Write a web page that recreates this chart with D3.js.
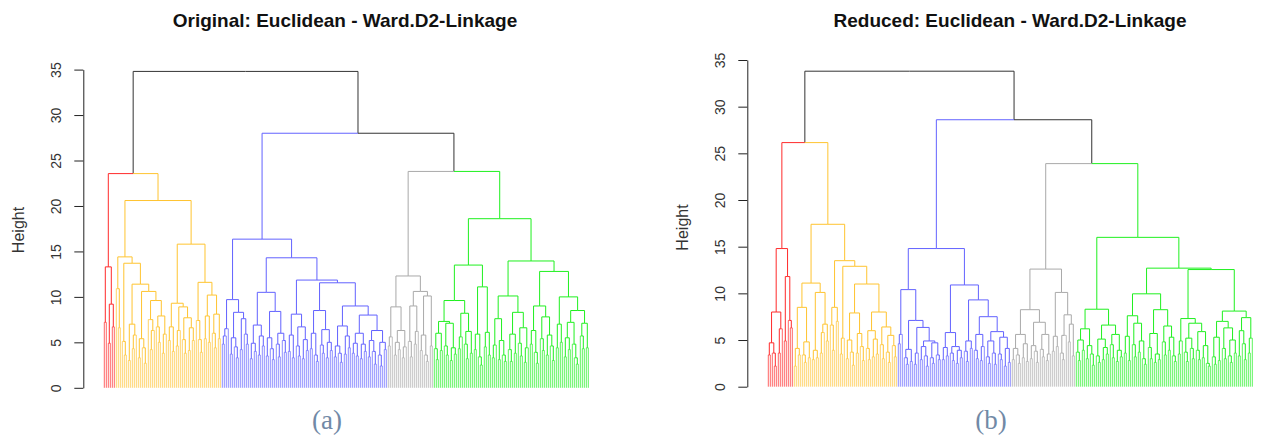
<!DOCTYPE html>
<html>
<head>
<meta charset="utf-8">
<script src="https://cdn.jsdelivr.net/npm/d3@7"></script>
<style>
  html, body { margin: 0; padding: 0; background: #fff; }
  svg { display: block; font-family: "Liberation Sans", Arial, Helvetica, sans-serif; }
</style>
</head>
<body>
<svg id="chart" width="1261" height="439"></svg>
<script>
// ---------------------------------------------------------------
// Ward.D2 dendrograms (Euclidean distance), two feature sets.
// A merge is written as [height, left, right]; a single sample is 0.
// ---------------------------------------------------------------

const titles = ["Original: Euclidean - Ward.D2-Linkage", "Reduced: Euclidean - Ward.D2-Linkage"];
const captions = ["(a)", "(b)"];
const yTicks = [0, 5, 10, 15, 20, 25, 30, 35];
const clusterNames = ["red", "orange", "blue", "gray", "green"];

// heights of the merges above the five clusters:
// [root, red+orange, blue+(gray,green), gray+green]
const topMergesA = [34.8, 23.56, 28.0, 23.8];
const topMergesB = [33.8, 26.15, 28.6, 23.9];

// ----- original feature set -----
const redA = [13.3, [7.2, 0, 0], [9.2, [4.9, 0, 0], [6.7, 0, 0]]];

const orangeA = [20.6,
  [14.4,
    [10.9, 0, [6.6, 0, 0]],
    [13.7,
      [5.1, 0, [3.6, 0, 0]],
      [11.4,
        [7.0, [3.0, 0, 0], [5.8, [4.3, 0, 0], 0]],
        [10.6,
          [5.4, [3.3, 0, 0], [4.4, 0, [2.7, 0, 0]]],
          [9.6,
            [7.5, 0, [6.3, [4.2, 0, 0], 0]],
            [7.9, [6.7, 0, [5.0, 0, 0]], [5.9, [3.8, 0, 0], 0]]]]]]],
  [15.8,
    [9.3,
      [6.7, [5.2, 0, 0], [4.0, 0, 0]],
      [8.9, [6.3, [4.6, 0, 0], 0], [7.7, [5.3, 0, [3.8, 0, 0]], [6.6, [4.1, 0, 0], [5.2, 0, 0]]]]],
    [11.6,
      [7.4, 0, [5.3, 0, [3.9, 0, 0]]],
      [10.2, [7.9, [5.4, 0, 0], [5.0, 0, 0]], [8.1, [6.0, 0, [4.4, 0, 0]], [5.4, 0, 0]]]]]];

const blueA = [16.35,
  [9.7,
    [6.5, [5.7, [4.8, 0, 0], 0], 0],
    [8.3, [5.5, [3.7, 0, 0], [4.5, 0, [3.3, 0, 0]]], [7.6, [4.2, 0, 0], [5.9, 0, [4.8, 0, 0]]]]],
  [14.3,
    [10.5,
      [6.9, [4.9, [3.2, 0, 0], [4.0, 0, 0]], [5.7, [3.6, 0, 0], [4.6, 0, 0]]],
      [8.4, [5.5, [3.5, 0, 0], [4.3, 0, [3.1, 0, 0]]], [6.0, [4.8, 0, [3.4, 0, 0]], [5.2, 0, [3.9, 0, 0]]]]],
    [11.85,
      [8.1, [5.8, [4.0, 0, 0], [3.3, 0, 0]], [6.7, [4.6, 0, [3.5, 0, 0]], [5.3, [3.2, 0, 0], [4.1, 0, 0]]]],
      [11.55,
        [8.5, [6.0, [4.3, 0, 0], [3.6, 0, [2.9, 0, 0]]], [6.4, [4.7, 0, [3.8, 0, 0]], [5.0, [3.3, 0, 0], [4.1, 0, 0]]]],
        [9.0,
          [6.8, [4.6, [3.4, 0, 0], [3.8, 0, [2.8, 0, 0]]], [5.7, [3.7, 0, 0], [4.4, 0, 0]]],
          [8.0,
            [6.0, [4.9, [3.8, 0, 0], [3.5, 0, 0]], [4.8, [3.2, 0, 0], [4.0, 0, 0]]],
            [6.3, [5.2, [3.4, 0, 0], [4.0, 0, [2.6, 0, 0]]], [5.0, [3.6, 0, [2.4, 0, 0]], [4.2, 0, 0]]]]]]]]];

const grayA = [12.3,
  [8.9, [5.6, [4.6, 0, 0], 0], [6.3, [5.0, [3.6, 0, 0], [4.2, 0, 0]], [4.5, [3.3, 0, 0], 0]]],
  [10.6,
    [9.0, [5.1, 0, [3.4, 0, 0]], [6.2, [4.8, 0, 0], 0]],
    [10.1, [5.8, [4.1, 0, 0], [3.6, 0, [2.9, 0, 0]]], [4.6, 0, 0]]]];

const greenA = [18.6,
  [13.5,
    [9.6,
      [7.3, [6.0, [4.3, 0, [3.1, 0, 0]], [4.1, 0, 0]], [7.1, [4.6, 0, [3.6, 0, 0]], [4.4, [3.0, 0, 0], [3.7, 0, 0]]]],
      [8.2, [5.6, [4.3, 0, 0], 0], [6.2, [4.8, 0, [3.2, 0, 0]], [3.8, 0, 0]]]],
    [11.1, [5.9, [4.2, 0, 0], [3.4, 0, [2.5, 0, 0]]], [6.1, [4.5, 0, 0], [3.6, 0, 0]]]],
  [13.95,
    [10.1,
      [7.6, [4.7, [3.3, 0, 0], 0], [5.2, [3.1, 0, 0], [3.6, 0, [2.9, 0, 0]]]],
      [8.3, [5.9, [4.2, 0, [2.9, 0, 0]], [3.8, 0, 0]], [6.6, [4.9, 0, [3.5, 0, 0]], [4.4, [2.8, 0, 0], 0]]]],
    [12.8,
      [9.0, [6.3, [4.8, 0, 0], [3.9, 0, [2.7, 0, 0]]], [7.8, [5.4, 0, [4.1, 0, 0]], [5.8, [3.6, 0, 0], [4.6, 0, [3.0, 0, 0]]]]],
      [10.0,
        [7.0, [4.4, 0, 0], [5.0, 0, 0]],
        [8.5, [7.2, [5.5, [3.4, 0, 0], [4.2, 0, 0]], [4.8, 0, [3.3, 0, [2.6, 0, 0]]]], [7.1, [5.7, 0, [4.3, 0, 0]], [4.4, 0, 0]]]]]]];

// ----- reduced feature set -----
const redB = [14.8,
  [8.0, [4.7, [3.4, 0, 0], [3.6, 0, [2.2, 0, 0]]], [6.2, [3.6, 0, 0], 0]],
  [11.8, [4.9, 0, 0], [7.1, 0, [6.3, 0, 0]]]];

const orangeB = [17.4,
  [11.1,
    [8.5, [4.1, [2.2, 0, 0], [3.4, 0, 0]], [4.8, [3.4, 0, [2.6, 0, 0]], [3.1, 0, 0]]],
    [10.1, [3.9, [2.9, 0, 0], [3.1, 0, 0]], [6.7, [5.8, [3.6, 0, 0], 0], [4.9, 0, 0]]]],
  [13.5,
    [8.5, [6.6, 0, [3.9, 0, 0]], [7.0, 0, 0]],
    [12.9,
      [5.2, [3.5, 0, 0], 0],
      [11.0,
        [7.9, [5.0, [3.0, 0, 0], [3.7, 0, [2.3, 0, 0]]], [5.7, [3.6, 0, 0], [4.3, 0, [2.8, 0, 0]]]],
        [8.0, [6.0, [4.1, 0, [2.9, 0, 0]], [5.1, [3.2, 0, 0], [3.5, 0, 0]]],
              [6.4, [4.5, 0, [3.0, 0, 0]], [5.5, [3.7, 0, [2.6, 0, 0]], [4.4, 0, [3.2, 0, 0]]]]]]]]];

const blueB = [14.8,
  [10.4,
    [5.6, [4.6, 0, 0], 0],
    [7.1,
      [4.0, [3.1, 0, [2.4, 0, 0]], [2.7, 0, 0]],
      [6.35, [3.6, [2.4, 0, 0], 0],
             [4.9, [4.3, [2.9, 0, 0], [3.3, 0, [2.2, 0, 0]]], [4.7, [3.1, 0, [2.5, 0, 0]], [3.4, 0, [2.9, 0, 0]]]]]]],
  [10.9,
    [5.8, [4.2, [2.9, 0, 0], [3.3, 0, 0]], [4.3, [3.6, 0, [2.8, 0, 0]], [3.9, [2.5, 0, 0], [3.1, 0, 0]]]],
    [9.3,
      [4.9, [3.8, 0, [2.7, 0, 0]], [4.1, 0, 0]],
      [7.5,
        [5.6, [3.9, 0, [3.0, 0, 0]], [4.3, [2.8, 0, 0], 0]],
        [5.9, [4.9, [3.2, 0, [2.5, 0, 0]], [3.6, 0, [2.4, 0, 0]]], [5.3, [3.5, 0, [2.9, 0, 0]], [4.1, [2.2, 0, 0], [2.6, 0, 0]]]]]]]];

const grayB = [12.6,
  [8.25,
    [5.6, [4.1, [2.9, 0, 0], [3.4, 0, [2.5, 0, 0]]], [4.6, [3.1, 0, 0], [2.7, 0, 0]]],
    [6.9, [4.4, [3.0, 0, 0], [3.8, 0, [2.6, 0, 0]]], [5.6, [4.0, 0, [3.2, 0, 0]], [3.5, [2.8, 0, 0], 0]]]],
  [10.1,
    [5.4, [3.8, 0, 0], [4.3, 0, 0]],
    [7.7, [5.5, [3.6, 0, [2.9, 0, 0]], 0], [6.7, [4.8, 0, 0], [3.3, 0, 0]]]]];

const greenB = [16.0,
  [8.3,
    [6.2, [5.0, [3.7, 0, [2.8, 0, 0]], [3.9, 0, 0]], [4.4, [3.0, 0, 0], [3.5, 0, [2.3, 0, 0]]]],
    [6.6, [5.1, [3.3, 0, [2.6, 0, 0]], [4.2, [2.9, 0, 0], [3.5, 0, 0]]], [5.6, [4.5, 0, [3.1, 0, 0]], [3.9, [2.7, 0, 0], [3.2, 0, 0]]]]],
  [12.7,
    [9.95,
      [7.6, [5.4, [3.6, 0, 0], [2.8, 0, 0]], [6.8, [4.5, 0, [3.2, 0, 0]], [4.9, [3.7, 0, 0], [3.0, 0, [2.4, 0, 0]]]]],
      [8.25, [5.7, [4.2, 0, [3.0, 0, 0]], [3.5, [2.6, 0, 0], [2.9, 0, 0]]], [6.5, [4.8, 0, [3.4, 0, 0]], [5.3, [3.9, 0, 0], [3.3, 0, [2.7, 0, 0]]]]]],
    [12.55,
      [7.3, [4.9, [3.5, 0, 0], 0],
            [6.8, [5.2, [3.7, 0, [2.7, 0, 0]], [4.1, 0, [3.0, 0, 0]]], [5.9, [3.9, 0, [2.9, 0, 0]], [4.4, [3.1, 0, 0], [2.5, 0, [2.2, 0, 0]]]]]],
      [8.1,
        [7.0, [5.3, [3.2, 0, [2.4, 0, 0]], [2.8, 0, 0]], [6.3, [4.1, 0, [3.0, 0, 0]], [5.0, [3.3, 0, [2.6, 0, 0]], [3.6, 0, 0]]]],
        [7.4, [6.0, [3.3, 0, 0], [4.6, 0, [2.9, 0, 0]]], [5.2, [3.6, 0, 0], 0]]]]]];

// ---------------------------------------------------------------
// styling and layout
// ---------------------------------------------------------------
const clusterColors = { red: "#ff2a2a", orange: "#ffc430", blue: "#6262ff", gray: "#a9a9a9", green: "#1ff01f" };
const mergeColor = "#333333";
const inkColor = "#222222";
const leafOpacity = 0.72;   // drop lines of single samples are drawn a little lighter

const panels = [
  { title: titles[0], caption: captions[0], top: topMergesA,
    clusters: [redA, orangeA, blueA, grayA, greenA],
    axisX: 83.3, leafX0: 104.3, leafX1: 588.3, y0: 387.8, yMax: 69.6,
    titleX: 345, captionX: 327, heightLabelY: 230 },
  { title: titles[1], caption: captions[1], top: topMergesB,
    clusters: [redB, orangeB, blueB, grayB, greenB],
    axisX: 747.3, leafX0: 768.3, leafX1: 1252.3, y0: 386.7, yMax: 60,
    titleX: 1010, captionX: 991, heightLabelY: 227.5 }
];

// nested merge arrays -> plain node objects tagged with their cluster
function build(a, cluster) {
  if (a === 0) return { h: 0, cluster };
  return { h: a[0], cluster, children: [build(a[1], cluster), build(a[2], cluster)] };
}

function assemble(top, clusters) {
  const c = clusters.map((a, i) => build(a, clusterNames[i]));
  return { h: top[0], cluster: null, children: [
    { h: top[1], cluster: null, children: [c[0], c[1]] },
    { h: top[2], cluster: null, children: [c[2], { h: top[3], cluster: null, children: [c[3], c[4]] }] }
  ]};
}

const svg = d3.select("#chart");

panels.forEach(p => {
  const root = d3.hierarchy(assemble(p.top, p.clusters));
  const n = root.leaves().length;
  // equally spaced leaves; every merge sits midway over its two children
  d3.cluster().separation(() => 1).size([n, 1])(root);

  const x = d3.scaleLinear().domain([0.5, n - 0.5]).range([p.leafX0, p.leafX1]);
  const y = d3.scaleLinear().domain([0, 35]).range([p.y0, p.yMax]);

  const g = svg.append("g");

  // each link: half of the parent's crossbar plus the child's drop line
  g.selectAll("path.link")
    .data(root.links())
    .join("path")
    .attr("class", "link")
    .attr("fill", "none")
    .attr("stroke-width", 1)
    .attr("stroke", l => l.target.data.cluster ? clusterColors[l.target.data.cluster] : mergeColor)
    .attr("stroke-opacity", l => l.target.children ? 1 : leafOpacity)
    .attr("d", l => `M${x(l.source.x)},${y(l.source.data.h)}H${x(l.target.x)}V${y(l.target.data.h)}`);

  // height axis
  const axis = d3.axisLeft(y).tickValues(yTicks).tickSize(9).tickSizeOuter(0).tickPadding(0);
  const ga = svg.append("g")
    .attr("transform", `translate(${p.axisX},0)`)
    .call(axis)
    .attr("font-family", null)
    .attr("font-size", 14);
  ga.select(".domain").attr("stroke", inkColor);
  ga.selectAll(".tick line").attr("stroke", inkColor);
  ga.selectAll(".tick text")
    .attr("transform", "rotate(-90)")
    .attr("x", 0)
    .attr("y", -22.5)
    .attr("dy", null)
    .attr("text-anchor", "middle")
    .attr("fill", "#333");

  svg.append("text")
    .attr("transform", `translate(${p.axisX - 59.5},${p.heightLabelY}) rotate(-90)`)
    .attr("text-anchor", "middle")
    .attr("font-size", 16)
    .attr("fill", "#333")
    .text("Height");

  svg.append("text")
    .attr("x", p.titleX)
    .attr("y", 26.5)
    .attr("text-anchor", "middle")
    .attr("font-size", 19)
    .attr("font-weight", "bold")
    .attr("fill", "#111")
    .text(p.title);

  svg.append("text")
    .attr("x", p.captionX)
    .attr("y", 429)
    .attr("text-anchor", "middle")
    .attr("font-family", "'Liberation Serif', 'DejaVu Serif', serif")
    .attr("font-size", 27)
    .attr("fill", "#7189a6")
    .text(p.caption);
});
</script>
</body>
</html>
